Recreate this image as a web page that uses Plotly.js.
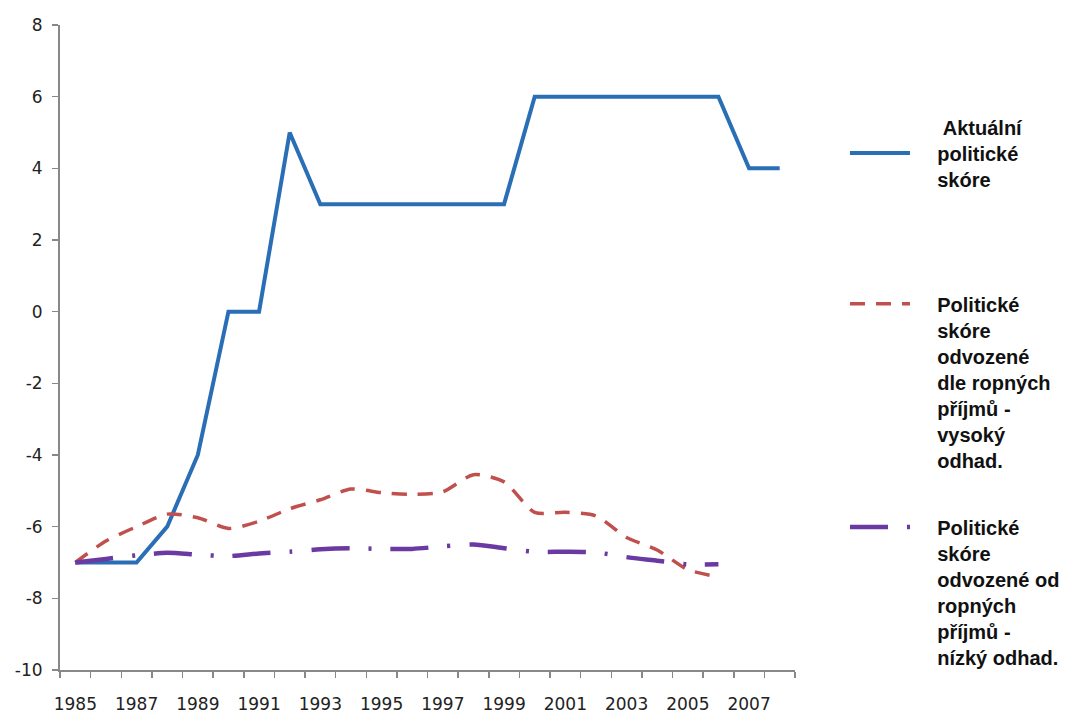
<!DOCTYPE html>
<html>
<head>
<meta charset="utf-8">
<script src="https://cdn.plot.ly/plotly-3.0.1.min.js"></script>
<style>html,body{margin:0;padding:0;background:#fff;}#chart{width:1070px;height:715px;}</style>
</head>
<body>
<div id="chart"></div>
<script>
const years = [1985,1986,1987,1988,1989,1990,1991,1992,1993,1994,1995,1996,1997,1998,1999,2000,2001,2002,2003,2004,2005,2006,2007,2008];
const yearsEst = years.slice(0, 22);
const actualScore = [-7,-7,-7,-6,-4,0,0,5,3,3,3,3,3,3,3,6,6,6,6,6,6,6,4,4];
const highEstimate = [-7,-6.4,-6.0,-5.65,-5.75,-6.05,-5.85,-5.5,-5.25,-4.95,-5.05,-5.1,-5.03,-4.55,-4.75,-5.6,-5.6,-5.7,-6.3,-6.65,-7.2,-7.4];
const lowEstimate = [-7,-6.9,-6.8,-6.73,-6.78,-6.82,-6.75,-6.7,-6.63,-6.6,-6.62,-6.62,-6.55,-6.5,-6.6,-6.7,-6.7,-6.72,-6.85,-6.95,-7.05,-7.05];
const tickYears = [1985,1987,1989,1991,1993,1995,1997,1999,2001,2003,2005,2007];
const tickLabels = tickYears.map(String);
const yTickVals = [-10,-8,-6,-4,-2,0,2,4,6,8];
const yTickLabels = ['-10','-8','-6','-4','-2','0','2','4','6','8'];
const legendLines = [
  [' Aktuální','politické','skóre'],
  ['Politické','skóre','odvozené','dle ropných','příjmů -','vysoký','odhad.'],
  ['Politické','skóre','odvozené od','ropných','příjmů -','nízký odhad.']
];
const pad = '\u00a0\u00a0\u00a0\u00a0';
const names = legendLines.map(ls => ls.map(s => pad + s.replace(/^ /, '\u00a0')).join('<br>'));

const traces = [
  {x: years, y: actualScore, name: names[0], type: 'scatter', mode: 'lines',
   line: {color: '#2a6fb6', width: 4}, legend: 'legend'},
  {x: yearsEst, y: highEstimate, name: names[1], type: 'scatter', mode: 'lines',
   line: {color: '#c0504d', width: 3.5, dash: '15px,11px', shape: 'spline', smoothing: 0.7}, legend: 'legend2'},
  {x: yearsEst, y: lowEstimate, name: names[2], type: 'scatter', mode: 'lines',
   line: {color: '#6a3aa2', width: 4.5, dash: '38px,19px,3px,19px', shape: 'spline', smoothing: 0.7}, legend: 'legend3'}
];

const legFont = {family: 'Liberation Sans, Arial, sans-serif', size: 20, color: '#111', weight: 'bold'};
const legBase = {xanchor: 'left', yanchor: 'top', font: legFont, bgcolor: 'rgba(0,0,0,0)', itemwidth: 60, borderwidth: 0};

const layout = {
  width: 1070, height: 715,
  margin: {l: 60, r: 275, t: 25, b: 45, autoexpand: false},
  paper_bgcolor: '#fff', plot_bgcolor: '#fff',
  showlegend: true,
  legend: Object.assign({}, legBase, {x: 1.068, y: 0.872, valign: 'middle'}),
  legend2: Object.assign({}, legBase, {x: 1.068, y: 0.598, valign: 'top'}),
  legend3: Object.assign({}, legBase, {x: 1.068, y: 0.252, valign: 'top'}),
  xaxis: {
    range: [1984.5, 2008.5],
    tickmode: 'array', tickvals: tickYears, ticktext: tickLabels,
    ticks: '', showgrid: false, zeroline: false,
    showline: true, linecolor: '#888', linewidth: 2,
    tickfont: {family: 'DejaVu Sans, sans-serif', size: 17, color: '#222'},
    ticklabelstandoff: 18,
    minor: {tick0: 1984.5, dtick: 1, ticks: 'outside', ticklen: 6, tickcolor: '#888', tickwidth: 1.5, showgrid: false},
    fixedrange: true
  },
  yaxis: {
    range: [-10, 8],
    tickmode: 'array', tickvals: yTickVals, ticktext: yTickLabels,
    ticks: 'outside', ticklen: 6, tickcolor: '#888', tickwidth: 1.5,
    showgrid: false, zeroline: false,
    showline: true, linecolor: '#888', linewidth: 2,
    tickfont: {family: 'DejaVu Sans, sans-serif', size: 17, color: '#222'},
    ticklabelstandoff: 6,
    fixedrange: true
  }
};

Plotly.newPlot('chart', traces, layout, {displayModeBar: false, staticPlot: true});
</script>
</body>
</html>
